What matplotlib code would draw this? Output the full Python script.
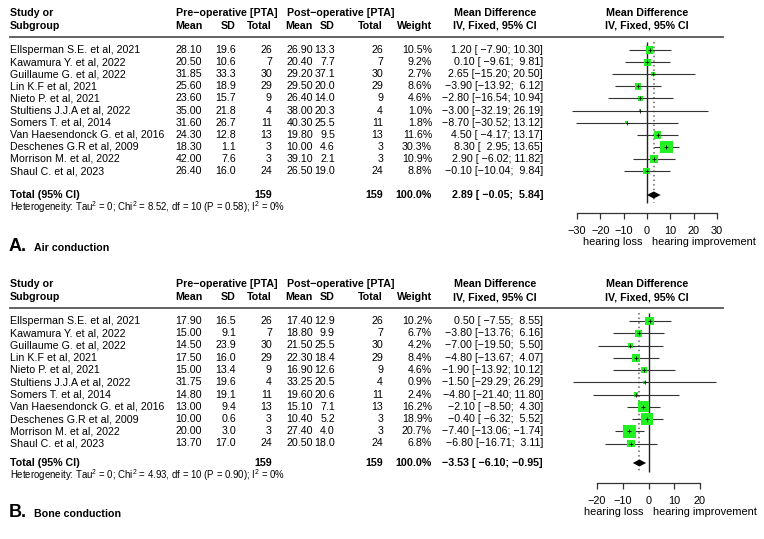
import matplotlib
matplotlib.use("Agg")
import matplotlib.pyplot as plt
import numpy as np

plt.rcParams['font.family'] = ['Liberation Sans', 'DejaVu Sans']
plt.rcParams['mathtext.fontset'] = 'custom'
plt.rcParams['mathtext.rm'] = 'Liberation Sans'
plt.rcParams['mathtext.it'] = 'Liberation Sans:italic'
plt.rcParams['mathtext.bf'] = 'Liberation Sans:bold'
plt.rcParams['axes.unicode_minus'] = True

# ---------------- data ----------------
studies = ["Ellsperman S.E. et al, 2021", "Kawamura Y. et al, 2022", "Guillaume G. et al, 2022",
           "Lin K.F et al, 2021", "Nieto P. et al, 2021", "Stultiens J.J.A et al, 2022",
           "Somers T. et al, 2014", "Van Haesendonck G. et al, 2016", "Deschenes G.R et al, 2009",
           "Morrison M. et al, 2022", "Shaul C. et al, 2023"]
n_pre = [26, 7, 30, 29, 9, 4, 11, 13, 3, 3, 24]
n_post = [26, 7, 30, 29, 9, 4, 11, 13, 3, 3, 24]

# A. Air conduction
pre_mean_A = [28.10, 20.50, 31.85, 25.60, 23.60, 35.00, 31.60, 24.30, 18.30, 42.00, 26.40]
pre_sd_A = [19.6, 10.6, 33.3, 18.9, 15.7, 21.8, 26.7, 12.8, 1.1, 7.6, 16.0]
post_mean_A = [26.90, 20.40, 29.20, 29.50, 26.40, 38.00, 40.30, 19.80, 10.00, 39.10, 26.50]
post_sd_A = [13.3, 7.7, 37.1, 20.0, 14.0, 20.3, 25.5, 9.5, 4.6, 2.1, 19.0]
weight_A = [10.5, 9.2, 2.7, 8.6, 4.6, 1.0, 1.8, 11.6, 30.3, 10.9, 8.8]
md_A = [1.20, 0.10, 2.65, -3.90, -2.80, -3.00, -8.70, 4.50, 8.30, 2.90, -0.10]
lo_A = [-7.90, -9.61, -15.20, -13.92, -16.54, -32.19, -30.52, -4.17, 2.95, -6.02, -10.04]
hi_A = [10.30, 9.81, 20.50, 6.12, 10.94, 26.19, 13.12, 13.17, 13.65, 11.82, 9.84]
total_A = (2.89, -0.05, 5.84)
het_A = ("8.52", "10", "0.58", "0")
ticks_A = [-30, -20, -10, 0, 10, 20, 30]

# B. Bone conduction
pre_mean_B = [17.90, 15.00, 14.50, 17.50, 15.00, 31.75, 14.80, 13.00, 10.00, 20.00, 13.70]
pre_sd_B = [16.5, 9.1, 23.9, 16.0, 13.4, 19.6, 19.1, 9.4, 0.6, 3.0, 17.0]
post_mean_B = [17.40, 18.80, 21.50, 22.30, 16.90, 33.25, 19.60, 15.10, 10.40, 27.40, 20.50]
post_sd_B = [12.9, 9.9, 25.5, 18.4, 12.6, 20.5, 20.6, 7.1, 5.2, 4.0, 18.0]
weight_B = [10.2, 6.7, 4.2, 8.4, 4.6, 0.9, 2.4, 16.2, 18.9, 20.7, 6.8]
md_B = [0.50, -3.80, -7.00, -4.80, -1.90, -1.50, -4.80, -2.10, -0.40, -7.40, -6.80]
lo_B = [-7.55, -13.76, -19.50, -13.67, -13.92, -29.29, -21.40, -8.50, -6.32, -13.06, -16.71]
hi_B = [8.55, 6.16, 5.50, 4.07, 10.12, 26.29, 11.80, 4.30, 5.52, -1.74, 3.11]
total_B = (-3.53, -6.10, -0.95)
het_B = ("4.93", "10", "0.90", "0")
ticks_B = [-20, -10, 0, 10, 20]

# ---------------- layout ----------------
W, H = 764, 539
fig = plt.figure(figsize=(W / 100, H / 100), dpi=100)
bg = fig.add_axes([0, 0, 1, 1])
bg.set_xlim(0, W)
bg.set_ylim(H, 0)
bg.axis('off')

FS = 7.7
MINUS = '\u2212'
GREEN = '#22f022'


def m(s):
    return s.replace('-', MINUS)


X_NAME = 10
X_PRE_MEAN, X_PRE_SD, X_PRE_N = 202, 236, 272
X_POST_MEAN, X_POST_SD, X_POST_N = 313, 335, 383
X_W, X_MD, X_MD_C, X_FOREST_C = 432, 543, 495, 647
X_LINE_END = 723


def txt(x, y, s, ha='left', bold=False, size=FS, **kw):
    bg.text(x, y, s, ha=ha, va='center', fontsize=size,
            fontweight='bold' if bold else 'normal', **kw)


def panel(L, pre_mean, pre_sd, post_mean, post_sd, weight, md, lo, hi, total, het,
          ticks, letter, title):
    # headers
    txt(X_NAME, L['h1'], "Study or", bold=True)
    txt(X_NAME, L['h2'], "Subgroup", bold=True)
    txt(176, L['h1'], "Pre\u2212operative [PTA]", bold=True)
    txt(287, L['h1'], "Post\u2212operative [PTA]", bold=True)
    for x, s in [(X_PRE_MEAN, "Mean"), (X_PRE_SD, "SD"), (X_PRE_N, "Total"),
                 (X_POST_MEAN, "Mean"), (X_POST_SD, "SD"), (X_POST_N, "Total"),
                 (X_W, "Weight")]:
        txt(x, L['h2'], s, ha='right', bold=True)
    for xc in (X_MD_C, X_FOREST_C):
        txt(xc, L['h1'], "Mean Difference", ha='center', bold=True)
        txt(xc, L['h2'], "IV, Fixed, 95% CI", ha='center', bold=True)
    bg.plot([X_NAME, X_LINE_END], [L['line'], L['line']], color='#555555', lw=1.3)

    all_lo = [f"{v:.2f}" for v in lo] + [f"{total[1]:.2f}"]
    all_hi = [f"{v:.2f}" for v in hi] + [f"{total[2]:.2f}"]
    wl = max(len(s) for s in all_lo)
    wh = max(len(s) for s in all_hi)

    def ci_str(e, a, b):
        return m(f"{e:.2f} [{f'{a:.2f}'.rjust(wl)}; {f'{b:.2f}'.rjust(wh)}]")

    ys = [L['row0'] + i * L['dy'] for i in range(len(studies))]
    for i, y in enumerate(ys):
        txt(X_NAME, y, studies[i])
        txt(X_PRE_MEAN, y, f"{pre_mean[i]:.2f}", ha='right')
        txt(X_PRE_SD, y, f"{pre_sd[i]:.1f}", ha='right')
        txt(X_PRE_N, y, f"{n_pre[i]}", ha='right')
        txt(X_POST_MEAN, y, f"{post_mean[i]:.2f}", ha='right')
        txt(X_POST_SD, y, f"{post_sd[i]:.1f}", ha='right')
        txt(X_POST_N, y, f"{n_post[i]}", ha='right')
        txt(X_W, y, f"{weight[i]:.1f}%", ha='right')
        txt(X_MD, y, ci_str(md[i], lo[i], hi[i]), ha='right')

    ty = L['total']
    txt(X_NAME, ty, "Total (95% CI)", bold=True)
    txt(X_PRE_N, ty, f"{sum(n_pre)}", ha='right', bold=True)
    txt(X_POST_N, ty, f"{sum(n_post)}", ha='right', bold=True)
    txt(X_W, ty, f"{sum(weight):.1f}%", ha='right', bold=True)
    txt(X_MD, ty, ci_str(*total), ha='right', bold=True)
    chi, df, p, i2 = het
    txt(X_NAME, L['het'],
        f"Heterogeneity: Tau$^2$ = 0; Chi$^2$ = {chi}, df = {df} (P = {p}); I$^2$ = {i2}%",
        size=6.9)
    bg.text(X_NAME - 1, L['label'], letter, ha='left', va='baseline', fontsize=13,
            fontweight='bold')
    bg.text(X_NAME + 24, L['label'], title, ha='left', va='baseline', fontsize=FS,
            fontweight='bold')

    # forest
    x0, x1 = L['fx']
    top, axis_y = L['ftop'], L['axis']
    ax = fig.add_axes([x0 / W, 1 - axis_y / H, (x1 - x0) / W, (axis_y - top) / H])
    ax.set_xlim(ticks[0], ticks[-1])
    ax.set_ylim(axis_y, top)
    ax.patch.set_alpha(0)
    for s in ('top', 'left', 'right'):
        ax.spines[s].set_visible(False)
    ax.spines['bottom'].set_color('#333333')
    ax.spines['bottom'].set_linewidth(0.9)
    ax.set_yticks([])
    ax.set_xticks(ticks)
    ax.tick_params(axis='x', direction='out', length=4, width=0.9, color='#333333',
                   labelsize=FS + 0.2, pad=5)

    wmax = max(weight)
    ax.vlines(0, top + 4, L['ref_bot'], color='#222222', lw=1.0, zorder=1)
    ax.vlines(total[0], top + 4, L['ref_bot'], color='#666666', lw=1.1,
              linestyles=(0, (1, 2)), zorder=1)
    ax.hlines(ys, lo, hi, color='#333333', lw=0.8, zorder=2, clip_on=False)
    sizes = [(12.5 * np.sqrt(w / wmax) * 0.72) ** 2 for w in weight]
    ax.scatter(md, ys, marker='s', s=sizes, color=GREEN, linewidths=0, zorder=3,
               clip_on=False)
    ax.scatter(md, ys, marker='+', s=5, color='#111111', linewidths=0.6, zorder=4,
               clip_on=False)
    e, a, b = total
    hgt = 3.5
    ax.fill([a, e, b, e], [ty, ty - hgt, ty, ty + hgt], color='black', zorder=4,
            lw=0)
    ax.annotate("hearing loss", xy=(0, 0), xycoords=('data', 'axes fraction'),
                xytext=(-3.5, -21), textcoords='offset points', ha='right',
                va='center', fontsize=FS + 0.2)
    ax.annotate("hearing improvement", xy=(0, 0), xycoords=('data', 'axes fraction'),
                xytext=(3.5, -21), textcoords='offset points', ha='left',
                va='center', fontsize=FS + 0.2)


LA = dict(h1=13, h2=26, line=37, row0=50, dy=12.1, total=195, het=207, label=251,
          fx=(577, 717), ftop=38, ref_bot=203, axis=213)
LB = dict(h1=284, h2=297, line=308, row0=321, dy=12.25, total=463, het=475, label=517,
          fx=(597, 700), ftop=309, ref_bot=472, axis=483)

panel(LA, pre_mean_A, pre_sd_A, post_mean_A, post_sd_A, weight_A, md_A, lo_A, hi_A,
      total_A, het_A, ticks_A, "A.", "Air conduction")
panel(LB, pre_mean_B, pre_sd_B, post_mean_B, post_sd_B, weight_B, md_B, lo_B, hi_B,
      total_B, het_B, ticks_B, "B.", "Bone conduction")

fig.savefig("out.png", dpi=100)
